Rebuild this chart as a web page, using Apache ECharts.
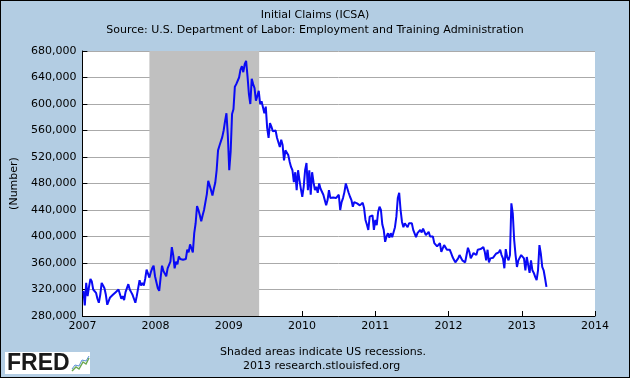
<!DOCTYPE html>
<html>
<head>
<meta charset="utf-8">
<script src="https://cdn.jsdelivr.net/npm/echarts@6/dist/echarts.min.js"></script>
<style>
html,body{margin:0;padding:0;background:#B3CDE3;}
#chart{width:630px;height:378px;box-sizing:border-box;border:1px solid #000;}
</style>
</head>
<body>
<div id="chart"></div>
<script>
// Weekly initial claims (thousands), weeks ending Saturday, first week ending 2007-01-06
const firstWeek = '2007-01-06';
const claims2007 = [318,296,330,310, 324,336,332,320, 322,315,306,300, 312,330,326,322, 312,297,300,308, 309,312,314,316, 316,320,318,306, 310,304,316,322, 328,320,316,312, 306,300,310,322, 334,326,330,326, 336,350,344,338, 346,352,356,340];
const claims2008 = [340,322,318,338, 356,348,344,340, 352,350,362,384, 372,352,362,358, 370,366,364,365, 364,366,380,376, 388,382,376,405, 420,446,440,432, 423,432,440,442, 464,484,482,470, 462,472,481,500, 530,537,536,550, 560,574,586,552];
const claims2009 = [500,528,585,592, 626,630,628,640, 652,657,648,660, 665,642,615,600, 638,630,624,605, 612,620,600,604, 607,586,596,564, 549,571,566,559, 562,560,549,546, 535,546,538,515, 530,530,523,513, 505,500,482,497, 470,500,485,472];
const claims2010 = [460,475,500,511, 470,500,463,497, 482,470,475,466, 480,472,470,463, 455,447,455,470, 458,460,459,461, 458,460,463,440, 452,458,467,480, 482,466,460,455, 445,452,449,450, 452,447,445,451, 443,425,418,410, 430,428,432,410];
const claims2011 = [425,417,437,445, 440,418,410,392, 400,405,398,405, 399,402,414,430, 458,466,440,422, 414,420,418,414, 420,417,420,410, 408,399,405,407, 410,406,412,414, 402,404,407,400, 397,400,390,392, 385,383,390,377, 382,387,384,380, 382];
const claims2012 = [380,375,369,365, 361,362,367,372, 368,364,364,361, 372,383,377,367, 369,375,372,372, 380,382,381,381, 384,377,364,380, 361,367,366,368, 369,374,375,376, 380,372,367,352, 381,369,364,372, 450,435,395,372, 354,364,367,372];
const claims2013 = [370,367,349,369, 372,345,364,349, 345,339,334,349, 387,374,354,349, 337,324];

const recessionStart = '2007-12-01';
const recessionEnd = '2009-06-01';
const yearTicks = ['2007','2008','2009','2010','2011','2012','2013','2014'];
const yTickValues = [280000,320000,360000,400000,440000,480000,520000,560000,600000,640000,680000];

function yearFrac(ms){
  const d = new Date(ms);
  const y = d.getUTCFullYear();
  const a = Date.UTC(y,0,1), b = Date.UTC(y+1,0,1);
  return y + (ms - a)/(b - a);
}
function parseDate(s){ const p = s.split('-').map(Number); return Date.UTC(p[0], p[1]-1, p[2]); }

const allClaims = [].concat(claims2007, claims2008, claims2009, claims2010, claims2011, claims2012, claims2013);
const t0 = parseDate(firstWeek);
const seriesData = allClaims.map((v,i) => [yearFrac(t0 + i*7*86400000), v*1000]);

const font = 'DejaVu Sans';
const chart = echarts.init(document.getElementById('chart'));
chart.setOption({
  backgroundColor: '#B3CDE3',
  animation: false,
  textStyle: {fontFamily: font},
  title: [
    {text: 'Initial Claims (ICSA)', left: 'center', top: 4, textStyle: {fontFamily: font, fontSize: 11, fontWeight: 'normal', color: '#000'}},
    {text: 'Source: U.S. Department of Labor: Employment and Training Administration', left: 'center', top: 19, textStyle: {fontFamily: font, fontSize: 11, fontWeight: 'normal', color: '#000'}},
    {text: 'Shaded areas indicate US recessions.', left: 214, top: 341, textStyle: {fontFamily: font, fontSize: 11, fontWeight: 'normal', color: '#000'}},
    {text: '2013 research.stlouisfed.org', left: 237, top: 355, textStyle: {fontFamily: font, fontSize: 11, fontWeight: 'normal', color: '#000'}}
  ],
  grid: {left: 81, top: 50, right: 34, bottom: 61, show: true, backgroundColor: '#fff', borderWidth: 0},
  xAxis: {
    type: 'value', min: 2007, max: 2014, interval: 1,
    axisLine: {show: true, lineStyle: {color: '#000', width: 1}},
    axisTick: {show: true, inside: true, length: 5, lineStyle: {color: '#000'}},
    splitLine: {show: false},
    axisLabel: {color: '#000', fontSize: 11, fontFamily: font, margin: 5,
      formatter: v => yearTicks[Math.round(v) - 2007]}
  },
  yAxis: {
    type: 'value', min: yTickValues[0], max: yTickValues[yTickValues.length-1], interval: 40000,
    name: '(Number)', nameLocation: 'middle', nameGap: 58, nameRotate: 90,
    nameTextStyle: {color: '#000', fontSize: 11, fontFamily: font},
    axisLine: {show: true, lineStyle: {color: '#000', width: 1}},
    axisTick: {show: true, inside: true, length: 5, lineStyle: {color: '#000'}},
    splitLine: {show: true, lineStyle: {color: '#AAAAAA', width: 1}},
    axisLabel: {color: '#000', fontSize: 11, fontFamily: font, margin: 6,
      formatter: v => v.toLocaleString('en-US')}
  },
  series: [{
    type: 'line', data: seriesData, showSymbol: false, symbol: 'none',
    lineStyle: {color: '#0A0AF5', width: 2}, z: 3,
    markArea: {silent: true, itemStyle: {color: '#C0C0C0', opacity: 1},
      data: [[{xAxis: yearFrac(parseDate(recessionStart))}, {xAxis: yearFrac(parseDate(recessionEnd))}]]}
  }],
  graphic: [
    {type: 'rect', left: 4, top: 351, shape: {width: 85, height: 22}, style: {fill: '#fff'}},
    {type: 'text', left: 6, top: 351, style: {text: 'FRED', font: 'bold 23px "Liberation Sans"', fill: '#1a1a1a'}},
    {type: 'polyline', shape: {points: [[71,370],[75,366],[78,368],[82,361],[85,363],[88,357]]}, style: {stroke: '#6aa84f', lineWidth: 1.5, fill: 'none'}},
    {type: 'polyline', shape: {points: [[71,368],[74,364],[78,365],[81,359],[85,360],[88,355]]}, style: {stroke: '#5b8fd6', lineWidth: 1, fill: 'none'}}
  ]
});
</script>
</body>
</html>
